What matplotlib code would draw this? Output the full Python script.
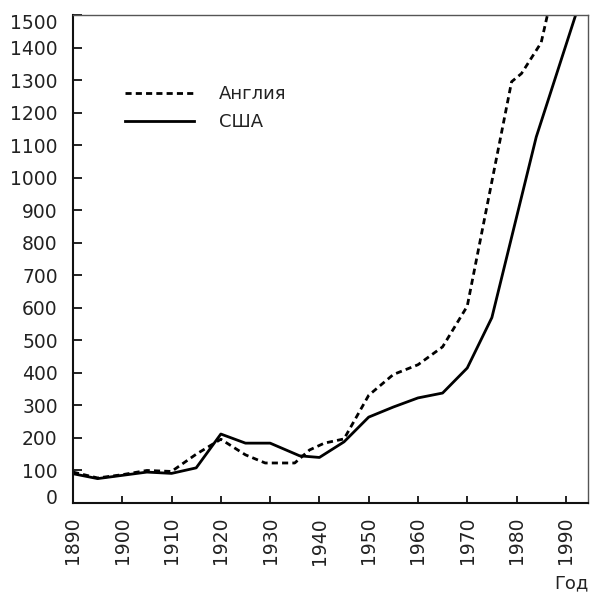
import matplotlib
matplotlib.use("Agg")
import matplotlib.pyplot as plt
import matplotlib.transforms as mtransforms

# data
years_usa = [1890, 1895, 1900, 1905, 1910, 1915, 1920, 1925, 1930, 1936,
             1940, 1945, 1950, 1955, 1960, 1965, 1970, 1975, 1984, 1992]
usa = [90, 75, 85, 95, 91, 108, 212, 184, 184, 145,
       140, 188, 264, 295, 323, 338, 415, 570, 1125, 1500]

years_eng = [1890, 1895, 1900, 1905, 1910, 1915, 1920, 1925, 1929, 1935,
             1938, 1941, 1945, 1950, 1955, 1960, 1965, 1970, 1979, 1981,
             1985, 1990]
eng = [95, 77, 87, 100, 97, 150, 196, 148, 123, 123,
       163, 184, 197, 331, 395, 425, 480, 605, 1295, 1320,
       1415, 1750]

xticks = list(range(1890, 2000, 10))
yticks = list(range(0, 1600, 100))

plt.rcParams['font.family'] = ['DejaVu Sans']
fig = plt.figure(figsize=(5.92, 5.94), dpi=100)
ax = fig.add_axes([0.1233, 0.1532, 0.8699, 0.8215])

ax.plot(years_eng, eng, color='black', lw=2.0, ls=(0, (2.2, 1.5)),
        label='Англия')
ax.plot(years_usa, usa, color='black', lw=2.0, label='США')

ax.set_xlim(1890, 1994.5)
ax.set_ylim(0, 1500)
ax.set_xticks(xticks)
ax.set_yticks(yticks)
ax.set_xticklabels([str(t) for t in xticks], rotation=90)
ax.tick_params(axis='both', direction='in', width=1.4, colors='#222222',
               labelsize=13.5, labelcolor='#222222')
ax.tick_params(axis='y', length=6.5, pad=11)
ax.tick_params(axis='x', length=5, pad=10)

for s in ['left', 'bottom']:
    ax.spines[s].set_linewidth(1.5)
    ax.spines[s].set_color('#111111')
for s in ['top', 'right']:
    ax.spines[s].set_linewidth(1.0)
    ax.spines[s].set_color('#555555')

# shift the end labels inward a bit like the original
lbls = ax.get_yticklabels()
off_up = mtransforms.ScaledTranslation(0, 6 / 100, fig.dpi_scale_trans)
off_dn = mtransforms.ScaledTranslation(0, -6 / 100, fig.dpi_scale_trans)
lbls[0].set_transform(lbls[0].get_transform() + off_up)
lbls[-1].set_transform(lbls[-1].get_transform() + off_dn)

ax.legend(loc='upper left', bbox_to_anchor=(0.07, 0.89), frameon=False,
          fontsize=13, handlelength=3.8, handletextpad=1.4,
          labelspacing=0.55, labelcolor='#222222')

fig.text(0.995, 0.002, 'Год', ha='right', va='bottom', fontsize=13,
         color='#222222')

fig.savefig('out.png', dpi=100)
